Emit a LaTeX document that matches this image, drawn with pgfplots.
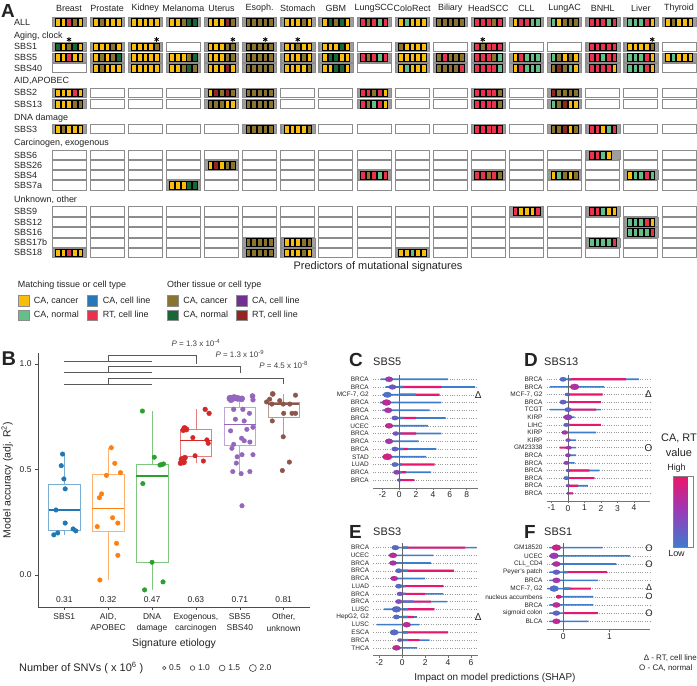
\documentclass[border=0pt]{standalone}
\usepackage{fontspec}
\setmainfont{Liberation Sans}
\usepackage{pgfplots}
\pgfplotsset{compat=1.18}
\usepackage{pgfplotstable}
\usepgfplotslibrary{statistics}

\definecolor{cY}{RGB}{248,188,10}
\definecolor{cG}{RGB}{98,192,135}
\definecolor{cB}{RGB}{40,120,185}
\definecolor{cR}{RGB}{233,50,78}
\definecolor{cO}{RGB}{139,117,45}
\definecolor{cD}{RGB}{22,104,55}
\definecolor{cP}{RGB}{112,48,150}
\definecolor{cM}{RGB}{145,38,35}
\definecolor{b1}{RGB}{31,119,180}
\definecolor{b2}{RGB}{255,127,14}
\definecolor{b3}{RGB}{44,160,44}
\definecolor{b4}{RGB}{214,39,40}
\definecolor{b5}{RGB}{148,103,189}
\definecolor{b6}{RGB}{140,86,75}
\definecolor{sB}{RGB}{62,124,205}
\definecolor{sP}{RGB}{232,22,108}
\definecolor{txt}{RGB}{35,35,35}

\newcommand{\fz}[1]{\fontsize{#1}{#1}\selectfont}

\pgfdeclareplotmark{cellmark}{\pgfpathrectangle{\pgfpoint{-2.35bp}{-3.8bp}}{\pgfpoint{4.7bp}{7.6bp}}\pgfusepathqfillstroke}
\pgfdeclareplotmark{blockbg}{\pgfpathrectangle{\pgfpoint{-17bp}{-4.6bp}}{\pgfpoint{34bp}{9.2bp}}\pgfusepathqfillstroke}

\pgfplotsset{
  colormap={shap}{rgb255=(62,124,205) rgb255=(150,60,185) rgb255=(238,20,105)},
  cellclasses/.style={scatter, only marks, point meta=explicit symbolic,
    mark options={line width=0.45bp},
    scatter/classes={
      Y={mark=cellmark,draw=black,fill=cY},
      G={mark=cellmark,draw=black,fill=cG},
      B={mark=cellmark,draw=black,fill=cB},
      R={mark=cellmark,draw=black,fill=cR},
      O={mark=cellmark,draw=black,fill=cO},
      D={mark=cellmark,draw=black,fill=cD},
      P={mark=cellmark,draw=black,fill=cP},
      M={mark=cellmark,draw=black,fill=cM},
      N={mark=cellmark,draw=black!38,fill=black!38}}},
  shapax/.style={scale only axis, anchor=north west, y dir=reverse, ymin=0.4,
    axis x line*=bottom, axis y line*=left, y axis line style={draw=none},
    x axis line style={black!55, line width=0.6bp},
    ytick style={draw=none}, xtick style={black!55, line width=0.6bp},
    tick align=outside, major tick length=2.5bp,
    ymajorgrids, major grid style={black!40, line width=0.4bp, dotted},
    yticklabel style={font=\fz{6.5}, text=txt, inner sep=1.5bp},
    xticklabel style={font=\fz{8.5}, text=txt, inner sep=1.5bp},
    /pgf/number format/assume math mode=true,
    colormap name=shap, point meta min=0, point meta max=1, clip=false},
  legA/.style={scale only axis, width=697bp, height=686bp, at={(0bp,0bp)}, anchor=north west,
    xmin=0, xmax=1, ymin=0, ymax=1, hide axis, legend columns=2,
    legend cell align=left,
    legend style={draw=none, fill=none, inner sep=0pt, font=\fz{9}, text=txt,
      row sep=2.4bp, anchor=north west,
      /tikz/every odd column/.append style={column sep=3bp},
      /tikz/every even column/.append style={column sep=6bp}},
    legend image code/.code={\draw[##1, draw=black!45, line width=0.5bp] (0bp,-5.3bp) rectangle (10.6bp,5.3bp);}},
  bxp/.style={boxplot/draw direction=y, line width=0.7bp, forget plot},
}

\newcommand{\shapplots}[1]{%
  \addplot[xbar, bar width=1.6bp, bar shift=0pt, fill=sB, draw=none, forget plot] table[x=hi,y=r]{#1};
  \addplot[xbar, bar width=1.6bp, bar shift=0pt, fill=sB, draw=none, forget plot] table[x=lo,y=r]{#1};
  \addplot[xbar, bar width=2.1bp, bar shift=0pt, fill=sP, draw=none, forget plot] table[x=pk,y=r]{#1};
  \addplot[xbar, bar width=2.3bp, bar shift=0pt, fill=sB, draw=none, forget plot] table[x=co,y=r]{#1};
  \draw[black!60, line width=0.6bp] ({axis cs:0,1}|-{rel axis cs:0,0}) -- ({axis cs:0,1}|-{rel axis cs:0,1});
  \addplot[scatter, only marks, mark=*, point meta=explicit, mark options={xscale=1.5, line width=0.2bp},
    visualization depends on={\thisrow{bs} \as \bsz},
    scatter/@pre marker code/.append style={/tikz/mark size=\bsz}, forget plot] table[x=bx,y=r,meta=bc]{#1};
}

% ---------- Panel A data: tissue index t, row position y (px), cells a..e
\pgfplotstableread{
t y a b c d e
0 22 Y Y R O Y
1 22 Y O Y Y Y
2 22 Y Y Y Y Y
3 22 Y Y O D D
4 22 Y Y Y M O
5 22 O O O O O
6 22 Y Y Y O Y
7 22 Y D O D Y
8 22 R O R G R
9 22 Y G Y Y Y
10 22 O O O O O
11 22 R R R O R
12 22 Y R R G G
13 22 G Y O O O
14 22 R R R G R
15 22 G G G R Y
16 22 Y O Y Y Y
0 46.7 D Y O D Y
1 46.7 Y Y Y O Y
2 46.7 Y Y Y Y O
4 46.7 Y Y Y O O
5 46.7 O O O O O
6 46.7 Y Y O Y Y
7 46.7 Y Y Y D Y
9 46.7 O Y Y Y Y
11 46.7 R O R R R
14 46.7 R R R R R
15 46.7 Y Y Y Y O
0 57.5 Y Y R Y Y
1 57.5 Y O Y O D
2 57.5 Y Y Y Y Y
3 57.5 Y Y Y O D
4 57.5 Y Y Y O O
5 57.5 O O O O O
6 57.5 Y Y Y O Y
7 57.5 Y D D Y Y
8 57.5 R O R G R
9 57.5 Y Y Y Y Y
10 57.5 O R O O O
11 57.5 R R R O G
12 57.5 Y R G G G
13 57.5 G O Y O Y
14 57.5 R R G R R
15 57.5 G G G R Y
16 57.5 Y G Y Y Y
1 68 Y O Y Y Y
2 68 Y Y Y Y Y
3 68 Y Y O D O
4 68 Y Y Y M Y
5 68 O O O O O
6 68 Y Y Y Y O
7 68 Y Y D D Y
9 68 Y G Y Y Y
10 68 O O O O R
11 68 R R R R G
12 68 Y R G G G
13 68 O M O G Y
14 68 R R R R Y
15 68 G G G R Y
0 92.7 Y Y Y R Y
4 92.7 Y M O M O
5 92.7 O O O O O
8 92.7 R R O R Y
11 92.7 R R R R O
13 92.7 M O O O O
0 104 Y Y Y O O
4 104 O O O Y Y
5 104 O O O O O
8 104 R O G R Y
11 104 R R R R O
13 104 G O M Y Y
0 129 Y O Y Y Y
5 129 O O O O O
6 129 Y Y Y Y O
11 129 R R R R R
13 129 O O M Y O
14 129 R R Y G R
14 155 R R G Y N
4 165 Y M Y O O
8 175 R O R G R
11 175 R R O R O
13 175 Y G O Y O
15 175 Y G G R G
3 185.3 Y Y Y D D
12 211.3 R Y Y Y R
14 211.3 R R G Y Y
15 222 G G G R Y
15 232.3 G G G G R
5 242.5 O O O O O
6 242.5 Y Y Y O O
14 242.5 G G G G R
0 252.7 Y Y R Y Y
5 252.7 O O O O O
6 252.7 Y Y Y O Y
9 252.7 Y Y G Y Y
}\cellsA

% ---------- Panel B points
\pgfplotstableread{
x y s g
0.96 0.573 2.3 a
0.93 0.518 2.3 a
0.99 0.455 2.3 a
1.02 0.408 2.3 a
0.81 0.308 2.3 a
1.02 0.246 2.3 a
1.26 0.209 2.3 a
1.20 0.218 2.3 a
0.85 0.199 2.3 a
0.76 0.190 2.3 a
2.07 0.603 2.3 b
2.15 0.529 2.3 b
1.96 0.472 2.3 b
2.28 0.485 2.3 b
1.85 0.384 2.3 b
1.80 0.366 2.3 b
2.10 0.271 2.3 b
2.22 0.246 2.3 b
1.75 0.229 2.3 b
2.19 0.150 2.3 b
2.22 0.093 2.3 b
1.81 -0.024 2.3 b
2.78 0.777 2.3 c
3.05 0.558 2.3 c
2.79 0.433 2.3 c
3.22 0.523 2.3 c
3.26 0.526 2.3 c
3.18 0.521 2.3 c
3.00 0.060 2.3 c
3.25 -0.033 2.3 c
2.83 -0.071 2.3 c
3.74 0.695 3.0 d
3.78 0.690 2.8 d
3.71 0.686 2.6 d
4.21 0.785 2.4 d
4.30 0.766 2.4 d
3.93 0.651 2.3 d
4.25 0.640 2.3 d
4.28 0.624 2.3 d
3.68 0.548 3.0 d
3.72 0.535 3.0 d
3.65 0.530 2.6 d
3.75 0.556 2.6 d
3.98 0.565 2.3 d
4.17 0.540 2.3 d
4.78 0.837 3.4 e
4.87 0.840 3.4 e
4.95 0.837 3.2 e
5.04 0.834 3.0 e
4.80 0.830 3.0 e
5.29 0.848 2.6 e
5.05 0.837 2.6 e
5.30 0.830 2.4 e
5.07 0.785 2.4 e
4.86 0.785 2.4 e
5.22 0.766 2.3 e
4.90 0.738 2.3 e
5.10 0.730 2.3 e
5.30 0.700 2.3 e
5.16 0.690 2.3 e
4.79 0.683 2.3 e
5.04 0.648 2.3 e
5.10 0.636 2.3 e
5.23 0.630 2.3 e
4.86 0.619 2.3 e
4.82 0.600 2.3 e
5.05 0.570 2.3 e
4.94 0.560 2.3 e
5.30 0.570 2.3 e
4.92 0.530 2.3 e
4.84 0.490 2.3 e
5.03 0.480 2.3 e
5.23 0.490 2.3 e
5.05 0.328 2.3 e
5.75 0.858 2.6 f
6.27 0.852 2.3 f
5.68 0.833 2.3 f
5.91 0.826 2.3 f
5.73 0.810 2.3 f
5.99 0.810 2.3 f
6.14 0.810 2.3 f
5.61 0.820 2.3 f
5.74 0.730 2.3 f
6.00 0.766 2.3 f
6.19 0.766 2.3 f
6.27 0.766 2.3 f
5.99 0.655 2.3 f
6.13 0.535 2.3 f
5.97 0.495 2.3 f
}\ptsB

% ---------- SHAP rows: r lo hi co pk bx bc bs
\pgfplotstableread{
r lo hi co pk bx bc bs
1 -2.2 5.8 0 0 -1.2 0.55 2.6
2 -1.6 9.0 0.5 5.0 -0.8 0.3 2.4
3 -2.0 2.0 2.0 4.8 -1.4 0.1 2.8
4 -2.3 5.0 0 0 -1.5 0.7 3.0
5 -2.0 3.6 0 0 -1.3 0.6 2.6
6 -0.8 5.5 0.5 2.0 -0.5 0.2 2.2
7 -1.6 3.4 0 0 -1.2 0.75 2.6
8 -0.7 5.0 0.2 2.0 -0.4 0.3 2.0
9 -1.6 2.3 0 0 -1.2 0.6 2.6
10 -0.8 4.4 0.5 1.0 -0.5 0.2 2.2
11 -2.0 3.2 0 0 -1.4 0.85 3.2
12 -0.8 0.3 0.3 4.2 -0.5 0.15 2.2
13 -0.6 3.8 0.3 0.8 -0.3 0.45 2.2
14 -0.2 0.2 0.2 1.8 0.0 0.3 1.4
}\shapC
\pgfplotstableread{
r lo hi co pk bx bc bs
1 -0.4 4.3 0.2 3.5 -0.3 0.1 2.2
2 -1.1 2.2 0 0 0.4 0.65 3.0
3 -0.1 0.1 0.1 2.1 -0.05 0.1 1.6
4 -0.4 2.0 0.1 2.0 -0.3 0.2 2.2
5 -1.1 2.0 0.2 1.7 0.0 0.2 2.2
6 -0.3 0.4 0 0 0.0 0.5 2.8
7 -0.2 0.1 0.1 2.0 -0.1 0.2 1.8
8 -0.3 1.7 0 0 -0.2 0.6 2.0
9 -0.1 0.5 0 0 0.0 0.4 1.6
10 -0.2 0.5 0 -0.5 0.05 0.5 1.8
11 -0.15 0.5 0 0 0.0 0.5 1.8
12 -0.2 0.4 0 0 -0.1 0.5 1.8
13 -0.05 1.9 0.1 1.3 0.0 0.3 1.4
14 -0.2 1.6 0.1 1.6 -0.1 0.1 1.8
15 -0.05 1.2 0.1 0.6 0.0 0.3 1.4
16 -0.05 0.3 0.0 0.3 0.0 0.4 1.2
}\shapD
\pgfplotstableread{
r lo hi co pk bx bc bs
1 -0.9 6.5 0.5 5.5 -0.6 0.15 2.4
2 -1.2 2.7 0 0 -0.8 0.7 2.6
3 -1.1 2.5 0 0 -0.8 0.6 2.4
4 -0.5 4.5 0.5 4.5 -0.3 0.15 2.2
5 -1.0 2.0 0 0 -0.7 0.7 2.4
6 -0.5 3.6 0.3 3.6 -0.3 0.15 2.2
7 -0.4 3.6 0.3 2.0 -0.2 0.3 2.0
8 -0.6 3.9 1.0 2.5 -0.3 0.35 2.2
9 -1.6 2.8 0.5 2.8 -0.5 0.15 3.0
10 -0.7 1.3 0.5 1.0 -0.5 0.1 2.2
11 -2.2 1.5 0 0 0.4 0.7 2.6
12 -1.0 4.0 0.5 4.0 -0.7 0.15 2.8
13 -0.3 2.4 0.5 1.5 -0.2 0.3 1.6
14 -0.8 1.3 0 0 -0.5 0.75 2.6
}\shapE
\pgfplotstableread{
r lo hi co pk bx bc bs
1 -0.3 0.85 0 0 -0.15 0.8 3.0
2 -0.3 1.45 0 0 -0.2 0.5 3.0
3 -0.25 1.15 0 0 -0.15 0.65 2.6
4 -0.3 0.5 0.1 0.95 -0.15 0.2 2.4
5 -0.3 0.75 0 0 -0.15 0.6 2.6
6 -0.35 0.2 0.15 0.6 -0.2 0.1 3.0
7 -0.15 0.65 0 0 -0.1 0.9 1.8
8 -0.3 0.65 0 0 -0.15 0.7 2.6
9 -0.3 0.0 0.0 0.75 -0.15 0.2 2.4
10 -0.3 0.55 0 0 -0.15 0.75 2.6
}\shapF

\begin{document}
\begin{tikzpicture}
\useasboundingbox (0,0) rectangle (697bp,-686bp);

% ================= Panel A =================
\begin{axis}[at={(0bp,0bp)}, anchor=north west, scale only axis, width=697bp, height=330bp,
  xmin=0, xmax=697, ymin=0, ymax=330, y dir=reverse, hide axis, clip=false]
\pgfplotsextra{%
  \foreach \t in {0,...,16}{%
    \foreach \yy in {22,46.7,57.5,68,92.7,104,129,155,165,175,185.3,211.3,222,232.3,242.5,252.7}{%
      \pgfmathsetmacro\xa{52+38.125*\t}\pgfmathsetmacro\xb{\xa+34}%
      \pgfmathsetmacro\ya{\yy-4.6}\pgfmathsetmacro\yb{\yy+4.6}%
      \draw[black!45, fill=white, line width=0.8bp] (axis cs:\xa,\ya) rectangle (axis cs:\xb,\yb);
    }}}
\addplot[only marks, mark=blockbg, mark options={fill=black!38, draw=black!45, line width=0.5bp}]
  table[x expr=69+38.125*\thisrow{t}, y=y]{\cellsA};
\addplot[cellclasses] table[x expr=52+38.125*\thisrow{t}+5.667, y=y, meta=a]{\cellsA};
\addplot[cellclasses] table[x expr=52+38.125*\thisrow{t}+11.333, y=y, meta=b]{\cellsA};
\addplot[cellclasses] table[x expr=52+38.125*\thisrow{t}+17, y=y, meta=c]{\cellsA};
\addplot[cellclasses] table[x expr=52+38.125*\thisrow{t}+22.667, y=y, meta=d]{\cellsA};
\addplot[cellclasses] table[x expr=52+38.125*\thisrow{t}+28.333, y=y, meta=e]{\cellsA};
\addplot[only marks, mark=asterisk, mark size=2.4bp, line width=0.8bp, black]
  table[row sep=\\, x expr=52+38.125*\thisrow{t}+5.667*\thisrow{k}, y expr=39.5]
  {t k\\ 0 3\\ 2 5\\ 4 5\\ 5 4\\ 6 3\\ 11 2\\ 15 5\\};
\end{axis}

% legends for panel A
\begin{axis}[legA, legend style={at={(0.0254,0.5707)}}]
\addlegendimage{fill=cY}\addlegendentry{CA, cancer}
\addlegendimage{fill=cB}\addlegendentry{CA, cell line}
\addlegendimage{fill=cG}\addlegendentry{CA, normal}
\addlegendimage{fill=cR}\addlegendentry{RT, cell line}
\end{axis}
\begin{axis}[legA, legend style={at={(0.2396,0.5707)}}]
\addlegendimage{fill=cO}\addlegendentry{CA, cancer}
\addlegendimage{fill=cP}\addlegendentry{CA, cell line}
\addlegendimage{fill=cD}\addlegendentry{CA, normal}
\addlegendimage{fill=cM}\addlegendentry{RT, cell line}
\end{axis}

% ================= Panel B =================
\begin{axis}[at={(38bp,-607bp)}, anchor=south west, scale only axis, width=272bp, height=254bp,
  xmin=0.4, xmax=6.6, ymin=-0.152, ymax=1.052,
  axis x line*=bottom, axis y line*=left, axis line style={black!70, line width=0.6bp},
  xtick={1,2,3,4,5,6},
  xticklabels={{SBS1},{AID,\\APOBEC},{DNA\\damage},{Exogenous,\\carcinogen},{SBS5\\SBS40},{Other,\\unknown}},
  xticklabel style={align=center, font=\fontsize{8.5}{11.5}\selectfont, text=txt},
  ytick={0,0.5,1}, yticklabels={0.0,0.5,1.0},
  yticklabel style={font=\fz{8.5}, text=txt},
  tick style={black!70, line width=0.6bp}, tick align=outside, major tick length=3bp,
  xlabel={Signature etiology}, ylabel={Model accuracy (adj. R\textsuperscript{2})},
  label style={font=\fz{10.5}, text=txt},
  clip=false]
\addplot[bxp, boxplot prepared={draw position=1, lower whisker=0.19, lower quartile=0.213, median=0.308, upper quartile=0.43, upper whisker=0.573, box extend=0.72, whisker extend=0},
  draw=b1!60, boxplot/every median/.style={draw=b1, line width=1.5bp}] coordinates {};
\addplot[bxp, boxplot prepared={draw position=2, lower whisker=-0.024, lower quartile=0.208, median=0.316, upper quartile=0.477, upper whisker=0.603, box extend=0.72, whisker extend=0},
  draw=b2!60, boxplot/every median/.style={draw=b2, line width=1.5bp}] coordinates {};
\addplot[bxp, boxplot prepared={draw position=3, lower whisker=-0.071, lower quartile=0.06, median=0.469, upper quartile=0.525, upper whisker=0.777, box extend=0.72, whisker extend=0},
  draw=b3!60, boxplot/every median/.style={draw=b3, line width=1.5bp}] coordinates {};
\addplot[bxp, boxplot prepared={draw position=4, lower whisker=0.53, lower quartile=0.561, median=0.637, upper quartile=0.692, upper whisker=0.785, box extend=0.72, whisker extend=0},
  draw=b4!60, boxplot/every median/.style={draw=b4, line width=1.5bp}] coordinates {};
\addplot[bxp, boxplot prepared={draw position=5, lower whisker=0.48, lower quartile=0.615, median=0.712, upper quartile=0.795, upper whisker=0.848, box extend=0.72, whisker extend=0},
  draw=b5!60, boxplot/every median/.style={draw=b5, line width=1.5bp}] coordinates {};
\addplot[bxp, boxplot prepared={draw position=6, lower whisker=0.655, lower quartile=0.747, median=0.81, upper quartile=0.817, upper whisker=0.858, box extend=0.72, whisker extend=0},
  draw=b6!60, boxplot/every median/.style={draw=b6, line width=1.5bp}] coordinates {};
\addplot[scatter, only marks, mark=*, point meta=explicit symbolic,
  scatter/classes={a={mark=*,draw=b1,fill=b1}, b={mark=*,draw=b2,fill=b2}, c={mark=*,draw=b3,fill=b3},
                   d={mark=*,draw=b4,fill=b4}, e={mark=*,draw=b5,fill=b5}, f={mark=*,draw=b6,fill=b6}},
  visualization depends on={\thisrow{s} \as \msz},
  scatter/@pre marker code/.append style={/tikz/mark size=\msz}, forget plot]
  table[x=x, y=y, meta=g]{\ptsB};
% significance brackets
\addplot[black!65, line width=0.6bp, forget plot] coordinates {(1,1.011) (3,1.011)};
\addplot[black!65, line width=0.6bp, forget plot] coordinates {(2,1.011) (2,1.043) (4,1.043) (4,1.0)};
\addplot[black!65, line width=0.6bp, forget plot] coordinates {(1,0.959) (3,0.959)};
\addplot[black!65, line width=0.6bp, forget plot] coordinates {(2,0.959) (2,0.987) (5,0.987) (5,0.955)};
\addplot[black!65, line width=0.6bp, forget plot] coordinates {(1,0.904) (3,0.904)};
\addplot[black!65, line width=0.6bp, forget plot] coordinates {(2,0.904) (2,0.932) (6,0.932) (6,0.904)};
\node[font=\fz{8}, text=black!75] at (axis cs:4,1.098) {\textit{P} = 1.3 x 10\textsuperscript{-4}};
\node[font=\fz{8}, text=black!75] at (axis cs:5,1.047) {\textit{P} = 1.3 x 10\textsuperscript{-9}};
\node[font=\fz{8}, text=black!75] at (axis cs:6,0.995) {\textit{P} = 4.5 x 10\textsuperscript{-8}};
\node[font=\fz{8.5}, text=txt] at (axis cs:1,-0.118) {0.31};
\node[font=\fz{8.5}, text=txt] at (axis cs:2,-0.118) {0.32};
\node[font=\fz{8.5}, text=txt] at (axis cs:3,-0.118) {0.47};
\node[font=\fz{8.5}, text=txt] at (axis cs:4,-0.118) {0.63};
\node[font=\fz{8.5}, text=txt] at (axis cs:5,-0.118) {0.71};
\node[font=\fz{8.5}, text=txt] at (axis cs:6,-0.118) {0.81};
\end{axis}

% SNV size legend
\begin{axis}[scale only axis, width=697bp, height=686bp, at={(0bp,0bp)}, anchor=north west,
    xmin=0, xmax=1, ymin=0, ymax=1, hide axis, legend columns=4, legend cell align=left,
    legend style={draw=none, fill=none, inner sep=0pt, font=\fz{8.5}, text=txt,
      at={(0.2324,0.0262)}, anchor=west,
      /tikz/every odd column/.append style={column sep=1bp},
      /tikz/every even column/.append style={column sep=7bp}}]
\addlegendimage{legend image code/.code={\draw[black!75, line width=0.6bp] (0bp,0bp) circle[radius=1.7bp];}}\addlegendentry{0.5}
\addlegendimage{legend image code/.code={\draw[black!75, line width=0.6bp] (0bp,0bp) circle[radius=2.3bp];}}\addlegendentry{1.0}
\addlegendimage{legend image code/.code={\draw[black!75, line width=0.6bp] (0bp,0bp) circle[radius=2.9bp];}}\addlegendentry{1.5}
\addlegendimage{legend image code/.code={\draw[black!75, line width=0.6bp] (0bp,0bp) circle[radius=3.5bp];}}\addlegendentry{2.0}
\end{axis}

% ================= Panels C-F =================
\begin{axis}[shapax, at={(373bp,-374.6bp)}, width=105bp, height=113.2bp,
  xmin=-3.1, xmax=9.34, ymax=15, xtick={-2,0,2,4,6,8}, ytick={1,...,14},
  yticklabels={BRCA,BRCA,{MCF-7, G2},BRCA,BRCA,BRCA,UCEC,BRCA,BRCA,BRCA,STAD,LUAD,BRCA,BRCA}]
\shapplots{\shapC}
\end{axis}
\begin{axis}[shapax, at={(546.7bp,-374.7bp)}, width=103.3bp, height=126.2bp,
  xmin=-1.29, xmax=4.97, ymax=17, xtick={-1,0,1,2,3,4}, ytick={1,...,16},
  yticklabels={BRCA,BRCA,{MCF-7, G2},BRCA,TCGT,KIRP,LIHC,KIRP,KIRP,GM23338,BRCA,BRCA,BRCA,BRCA,BRCA,BRCA}]
\shapplots{\shapD}
\end{axis}
\begin{axis}[shapax, at={(373.3bp,-543bp)}, width=105bp, height=112.5bp,
  xmin=-2.52, xmax=6.64, ymax=15, xtick={-2,0,2,4,6}, ytick={1,...,14},
  yticklabels={BRCA,UCEC,BRCA,BRCA,BRCA,LUAD,BRCA,BRCA,LUSC,{HepG2, G2},LUSC,ESCA,BRCA,THCA}]
\shapplots{\shapE}
\end{axis}
\begin{axis}[shapax, at={(546.7bp,-542.7bp)}, width=103.3bp, height=86.8bp,
  xmin=-0.36, xmax=1.88, ymax=11, xtick={0,1}, ytick={1,...,10},
  yticklabels={GM18520,UCEC,CLL\_CD4,Peyer's patch,BRCA,{MCF-7, G2},nucleus accumbens,BRCA,sigmoid colon,BLCA}]
\shapplots{\shapF}
\end{axis}

% colorbar
\begin{axis}[at={(665bp,-475.7bp)}, anchor=north west, scale only axis, width=19.3bp, height=71.6bp,
  hide axis, xmin=0, xmax=1, ymin=0, ymax=1, colormap name=shap, point meta min=0, point meta max=1,
  colorbar, colorbar style={at={(parent axis.north west)}, anchor=north west, xshift=0pt,
    width=19.3bp, height=71.6bp, ytick=\empty, axis line style={black!50, line width=0.4bp}}]
\addplot[draw=none, forget plot] coordinates {(0.5,0.5)};
\end{axis}

% ================= Text =================
\begin{scope}[x=1bp, y=-1bp, every node/.style={inner sep=0pt, text=txt}]
\node[anchor=west, font=\bfseries\fz{19}] at (1,10.5) {A};
\foreach \n [count=\i from 0] in {Breast,Prostate,Kidney,Melanoma,Uterus,Esoph.,Stomach,GBM,LungSCC,ColoRect,Biliary,HeadSCC,CLL,LungAC,BNHL,Liver,Thyroid}
  {\node[font=\fz{9}] at ({69+38.125*\i},8) {\n};}
\foreach \n/\yy in {ALL/22,SBS1/46.7,SBS5/57.5,SBS40/68,SBS2/92.7,SBS13/104,SBS3/129,SBS6/155,SBS26/165,SBS4/175,SBS7a/185.3,SBS9/211.3,SBS12/222,SBS16/232.3,SBS17b/242.5,SBS18/252.7}
  {\node[anchor=west, font=\fz{9}] at (14,\yy) {\n};}
\node[anchor=west, font=\fz{9}] at (14,36) {Aging, clock};
\node[anchor=west, font=\fz{9}] at (14,81) {AID,APOBEC};
\node[anchor=west, font=\fz{9}] at (14,118) {DNA damage};
\node[anchor=west, font=\fz{9}] at (14,143.3) {Carcinogen, exogenous};
\node[anchor=west, font=\fz{9}] at (14,200) {Unknown, other};
\node[font=\fz{11}] at (378,267) {Predictors of mutational signatures};
\node[anchor=west, font=\fz{9}] at (17.7,285) {Matching tissue or cell type};
\node[anchor=west, font=\fz{9}] at (167,285) {Other tissue or cell type};

\node[anchor=west, font=\bfseries\fz{20}] at (1.5,358.5) {B};
\node[anchor=west, font=\fz{11}] at (19,668) {Number of SNVs ( x 10\textsuperscript{6} )};

\node[anchor=west, font=\bfseries\fz{19}] at (349,360) {C};
\node[anchor=west, font=\fz{11}] at (373,361.7) {SBS5};
\node[anchor=west, font=\bfseries\fz{19}] at (524,360) {D};
\node[anchor=west, font=\fz{11}] at (544,361.7) {SBS13};
\node[anchor=west, font=\bfseries\fz{19}] at (349,531.7) {E};
\node[anchor=west, font=\fz{11}] at (373,532) {SBS3};
\node[anchor=west, font=\bfseries\fz{19}] at (524,531.7) {F};
\node[anchor=west, font=\fz{11}] at (544,532) {SBS1};

\node[font=\fz{10}] at (478.3,394.8) {Δ};
\node[font=\fz{10}] at (648.5,394.5) {Δ};
\node[font=\fz{10}] at (648.5,447.7) {O};
\node[font=\fz{10}] at (478.3,617.5) {Δ};
\node[font=\fz{9.5}] at (649,548) {O};
\node[font=\fz{9.5}] at (649,564.3) {O};
\node[font=\fz{9}] at (649,587.5) {Δ};
\node[font=\fz{9}] at (649,596.5) {O};
\node[font=\fz{9.5}] at (649,613) {O};

\node[font=\fz{11}] at (679,438) {CA, RT};
\node[font=\fz{11}] at (679,452.7) {value};
\node[font=\fz{9}] at (676.5,468) {High};
\node[font=\fz{9}] at (676.5,553.5) {Low};

\node[anchor=east, font=\fz{8}] at (697,658) {Δ - RT, cell line};
\node[anchor=east, font=\fz{8}] at (697,668.5) {O - CA, normal\phantom{e}};
\node[font=\fz{10}] at (495,678) {Impact on model predictions (SHAP)};
\end{scope}
\end{tikzpicture}
\end{document}
